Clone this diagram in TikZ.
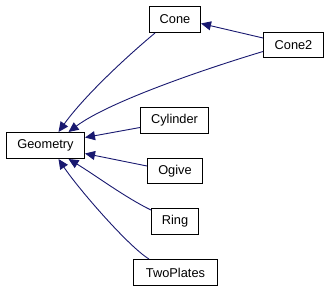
\documentclass[tikz,border=0pt]{standalone}
\usepackage{fontspec}
\setmainfont{Liberation Sans}
\usetikzlibrary{arrows.meta}
\definecolor{edgeblue}{HTML}{191970}
\begin{document}
\begin{tikzpicture}[x=1pt,y=-1pt,
  cls/.style={draw=black,fill=white,line width=1pt,inner sep=0pt,anchor=north west,
    font=\fontsize{12.8}{15}\selectfont},
  inherit/.style={draw=edgeblue,line width=0.9pt,
    -{Triangle[length=10pt,width=9pt]},fill=none},
]
\useasboundingbox (0,0) rectangle (328,291);
% class boxes
\node[cls,minimum width=51pt,minimum height=26pt] (cone) at (149,6) {Cone};
\node[cls,minimum width=60pt,minimum height=25pt] (cone2) at (263,32) {Cone2};
\node[cls,minimum width=78pt,minimum height=26pt] (geo) at (6,132) {Geometry};
\node[cls,minimum width=68pt,minimum height=26pt] (cyl) at (140,107) {Cylinder};
\node[cls,minimum width=55pt,minimum height=25pt] (ogive) at (147,158) {Ogive};
\node[cls,minimum width=47pt,minimum height=26pt] (ring) at (151,208) {Ring};
\node[cls,minimum width=84pt,minimum height=26pt] (two) at (133,259) {TwoPlates};
% inheritance arrows, pointing to the base class
\draw[inherit] ([yshift=7pt]cone2.west) -- ([yshift=-4pt]cone.east);
\draw[inherit] ([xshift=6pt]cone.south west) .. controls +(-30,25) and +(25,-35) .. ([xshift=13pt]geo.north);
\draw[inherit] ([yshift=-6.5pt]cone2.west) .. controls +(-60,18) and +(40,-30) .. ([xshift=23pt]geo.north);
\draw[inherit] ([yshift=-7pt]cyl.west) -- ([yshift=8pt]geo.east);
\draw[inherit] ([yshift=5pt]ogive.west) -- ([yshift=-8pt]geo.east);
\draw[inherit] ([yshift=-2pt]ring.north west) .. controls +(-25,-12) and +(25,15) .. ([xshift=23pt]geo.south);
\draw[inherit] ([xshift=16pt]two.north west) .. controls +(-20,-12) and +(20,30) .. ([xshift=13pt]geo.south);
\end{tikzpicture}
\end{document}
